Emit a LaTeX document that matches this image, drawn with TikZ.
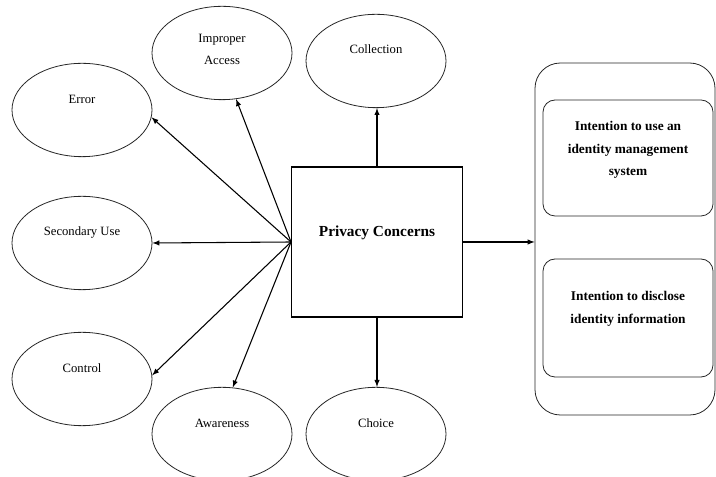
\documentclass[tikz,border=0pt]{standalone}
\usepackage{fontspec}
\setmainfont{Liberation Serif}
\usetikzlibrary{shapes.geometric}
\tikzset{
  bubble/.style={draw=black!85,ellipse,line width=0.6pt,minimum width=105pt,minimum height=70pt,inner sep=0pt},
  lbl/.style={yshift=8pt,font=\fontsize{9.5}{16.5}\selectfont,align=center},
  blbl/.style={font=\bfseries\fontsize{10}{17}\selectfont,align=center},
  intent/.style={draw=black!85,line width=0.6pt,rounded corners=9pt,minimum width=127.5pt,inner sep=0pt},
}
\begin{document}
\begin{tikzpicture}[x=0.75pt,y=0.75pt]
\useasboundingbox (0,0) rectangle (716,477);
% concerns
\node[bubble,label={[lbl,yshift=-5pt]center:Improper\\Access}] (acc) at (222,424) {};
\node[bubble,label={[lbl,yshift=1pt]center:Collection}] (col) at (376,416) {};
\node[bubble,label={[lbl]center:Error}] (err) at (82,367) {};
\node[bubble,label={[lbl]center:Secondary Use}] (sec) at (82,234) {};
\node[bubble,label={[lbl]center:Control}] (ctl) at (82,98) {};
\node[bubble,label={[lbl]center:Awareness}] (awa) at (222,43) {};
\node[bubble,label={[lbl]center:Choice}] (cho) at (376,43) {};
\node[draw,line width=1pt,minimum width=128pt,minimum height=112.5pt,
  label={[yshift=7pt,font=\bfseries\fontsize{11.5}{14}\selectfont]center:Privacy Concerns}] (pc) at (377,235) {};
% intentions
\node[draw=black!85,line width=0.6pt,rounded corners=19pt,minimum width=135pt,minimum height=264pt] (grp) at (625,238) {};
\node[intent,minimum height=87pt,label={[blbl,yshift=6pt]center:Intention to use an\\identity management\\system}] (use) at (628,319) {};
\node[intent,minimum height=88.5pt,label={[blbl,yshift=7pt]center:Intention to disclose\\identity information}] (dis) at (628,159) {};
% arrows
\begin{scope}[line width=0.8pt]
\draw[->,>=latex](pc.west)--(err.-6);
\draw[->,>=latex](pc.west)--(acc.-73);
\draw[->,>=latex](pc.west)--(sec.east);
\draw[->,>=latex](pc.west)--(ctl.3);
\draw[->,>=latex](pc.west)--(awa.77);
\draw[->,>=latex](pc.north)--(pc.north|-col.south);
\draw[->,>=latex](pc.south)--(pc.south|-cho.north);
\draw[->,>=latex](pc.east)--(pc.east-|grp.west);
\end{scope}
\end{tikzpicture}
\end{document}
